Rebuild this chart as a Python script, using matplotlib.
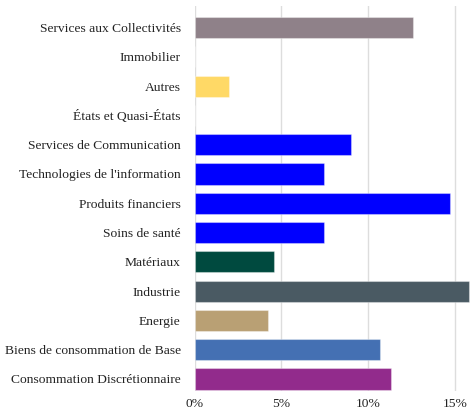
import matplotlib.pyplot as plt
from matplotlib.ticker import FuncFormatter

# Répartition sectorielle (%)
secteurs = ["Services aux Collectivités", "Immobilier", "Autres", "États et Quasi-États",
            "Services de Communication", "Technologies de l'information", "Produits financiers",
            "Soins de santé", "Matériaux", "Industrie", "Energie",
            "Biens de consommation de Base", "Consommation Discrétionnaire"]
poids = [12.6, 0, 2.0, 0, 9.0, 7.47, 14.7, 7.43, 4.57, 15.8, 4.22, 10.67, 11.33]
couleurs = ["#8f8189", "#ffffff", "#ffd966", "#ffffff", "#0000ff", "#0000ff", "#0000ff",
            "#0000ff", "#004a3f", "#4a5a63", "#b9a074", "#4470b3", "#922b8c"]
ticks = [0, 5, 10, 15]

plt.rcParams['font.family'] = ['Liberation Serif', 'DejaVu Serif']

fig = plt.figure(figsize=(4.71, 4.12), dpi=100)
ax = fig.add_axes([0.4134, 0.051, 0.5866, 0.9344])

y = list(range(len(secteurs)))
ax.barh(y, poids, height=0.72, color=couleurs, edgecolor=(1, 1, 1, 0.35), linewidth=0.8, zorder=3)

ax.set_yticks(y)
ax.set_yticklabels(secteurs, fontsize=9.7, color="#222222")
ax.set_xticks(ticks)
ax.xaxis.set_major_formatter(FuncFormatter(lambda v, p: f"{v:.0f}%"))
ax.tick_params(axis="x", labelsize=9.7, colors="#222222", length=0, pad=5)
ax.tick_params(axis="y", length=0, pad=10)
ax.set_xlim(0, 15.92)
ax.set_ylim(12.41, -0.735)
ax.grid(axis="x", color="#dddddd", linewidth=1, zorder=0)
for s in ax.spines.values():
    s.set_visible(False)

fig.savefig("out.png", dpi=100)
